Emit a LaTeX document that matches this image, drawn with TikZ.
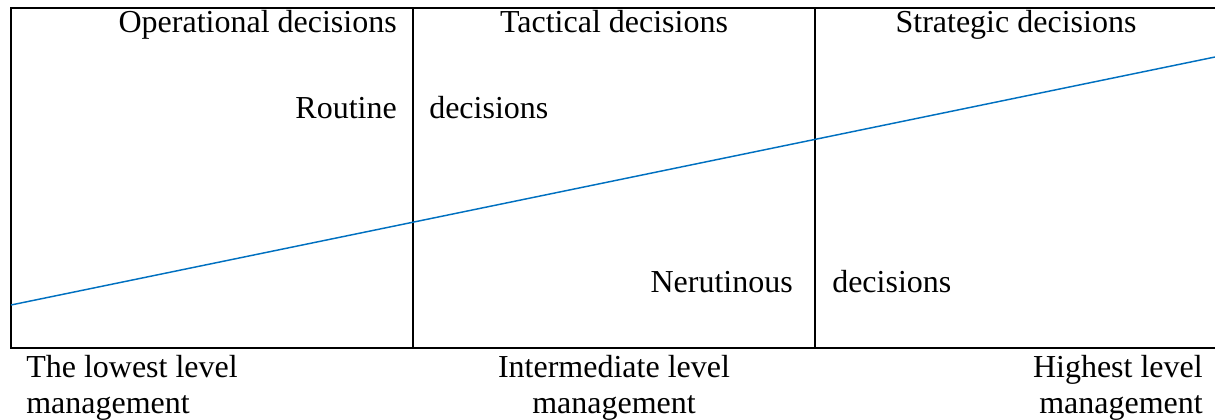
\documentclass[tikz,border=0pt]{standalone}
\usepackage{fontspec}
\setmainfont{Liberation Serif}
\usetikzlibrary{positioning}
\definecolor{trendblue}{RGB}{0,112,192}

\begin{document}
\begin{tikzpicture}[x=0.75pt,y=-0.75pt,
    every node/.style={inner sep=0pt,font=\fontsize{24}{28}\selectfont},
    frame/.style={line width=1.5pt},
    trend/.style={draw=trendblue,line width=1.1pt}]
  \useasboundingbox (0,0) rectangle (1215,419);
  % frame, open on the right
  \coordinate (tr) at (1215,8);
  \coordinate (tl) at (11,8);
  \coordinate (bl) at (11,348);
  \coordinate (br) at (1215,348);
  \coordinate (c1t) at (413,8);
  \coordinate (c1b) at (413,348);
  \coordinate (c2t) at (815,8);
  \coordinate (c2b) at (815,348);
  \draw[frame] (tr) -- (tl) -- (bl) -- (br);
  \draw[frame] (c1t) -- (c1b);
  \draw[frame] (c2t) -- (c2b);
  % rising line
  \coordinate (lo) at (11,305);
  \coordinate (hi) at (1215,57);
  \draw[trend] (lo) -- (hi);
  % column heads
  \node (oper) [anchor=base east] at (397,32) {Operational decisions};
  \node (tact) [anchor=base] at (614,32) {Tactical decisions};
  \node (strat) [anchor=base] at (1016,32) {Strategic decisions};
  \node (rout) [anchor=base east] at (397,118) {Routine};
  \node (routd) [anchor=base west] at (429,118) {decisions};
  \node (neru) [anchor=base east] at (793,292) {Nerutinous};
  \node (nerud) [anchor=base west] at (832,292) {decisions};
  % management levels
  \node (low) [anchor=base west] at (26,377) {The lowest level};
  \node (lowm) [below=27.7pt of low.base west, anchor=base west] {management};
  \node (mid) [anchor=base] at (614,377) {Intermediate level};
  \node (midm) [below=27.7pt of mid.base, anchor=base] {management};
  \node (high) [anchor=base east] at (1203,377) {Highest level};
  \node (highm) [below=27.7pt of high.base east, anchor=base east] {management};
\end{tikzpicture}
\end{document}
